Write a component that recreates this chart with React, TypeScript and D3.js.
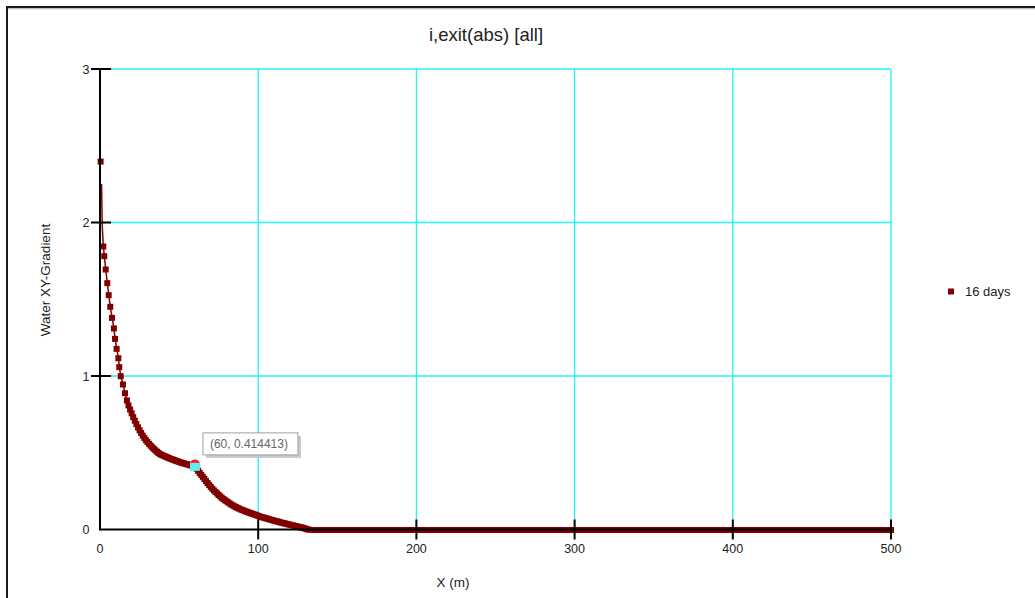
import React from "react";
import * as d3 from "d3";

// Chart header and axis text
const chartTitle = "i,exit(abs) [all]";
const xAxisTitle = "X (m)";
const yAxisTitle = "Water XY-Gradient";
const seriesName = "16 days";

// Axis ticks
const xTicks = [0, 100, 200, 300, 400, 500];
const yTicks = [0, 1, 2, 3];

// Isolated first value at the exit face
const spikeX = [0.4];
const spikeY = [2.4];

// Steep connecting segment near x = 0 (line only)
const leadX = [1.0, 1.4];
const leadY = [2.25, 1.98];

// Main gradient profile
const curveX = [
  2.1, 2.7, 3.6, 4.6, 5.5, 6.5, 7.6, 8.8, 9.5, 10.5, 11.6, 12.2, 13.1, 14.5, 15.8,
  17, 18, 19, 20, 21, 22, 23, 24, 25, 26, 27, 28, 29, 30, 31, 32, 33, 34, 35, 36,
  37, 38, 39, 40, 41, 42, 43, 44, 45, 46, 47, 48, 49, 50, 51, 52, 53, 54, 55, 56,
  57, 58, 59, 60, 61, 62, 63, 64, 65, 66, 67, 68, 69, 70, 71, 72, 73, 74, 75, 76,
  77, 78, 79, 80, 81, 82, 83, 84, 85, 86, 87, 88, 89, 90, 91, 92, 93, 94, 95, 96,
  97, 98, 99, 100, 101, 102, 103, 104, 105, 106, 107, 108, 109, 110, 111, 112, 113,
  114, 115, 116, 117, 118, 119, 120, 121, 122, 123, 124, 125, 126, 127, 128, 129,
  130, 131, 132,
];
const curveY = [
  1.847, 1.784, 1.697, 1.608, 1.53, 1.454, 1.382, 1.313, 1.245, 1.18, 1.119, 1.061, 1.002, 0.948, 0.891,
  0.844, 0.812, 0.785, 0.76, 0.735, 0.712, 0.69, 0.669, 0.65, 0.632, 0.615, 0.6, 0.586, 0.573, 0.561, 0.55, 0.539, 0.529, 0.519, 0.51,
  0.502, 0.494, 0.489, 0.485, 0.48, 0.476, 0.471, 0.467, 0.463, 0.459, 0.455, 0.451, 0.447, 0.444, 0.44, 0.437, 0.434, 0.431, 0.428, 0.425,
  0.422, 0.419, 0.417, 0.414413, 0.4, 0.386, 0.372, 0.359, 0.346, 0.333, 0.319, 0.306, 0.293, 0.281, 0.269, 0.258, 0.248, 0.238, 0.228, 0.219,
  0.21, 0.202, 0.194, 0.187, 0.18, 0.173, 0.166, 0.16, 0.154, 0.149, 0.144, 0.139, 0.134, 0.13, 0.126, 0.122, 0.118, 0.114, 0.11, 0.107,
  0.103, 0.1, 0.096, 0.092, 0.088, 0.085, 0.082, 0.079, 0.076, 0.073, 0.07, 0.067, 0.064, 0.061, 0.058, 0.056, 0.053,
  0.05, 0.047, 0.045, 0.042, 0.04, 0.037, 0.035, 0.032, 0.03, 0.027, 0.025, 0.022, 0.02, 0.017, 0.015, 0.012,
  0.008, 0.005, 0.002,
];

// Flat zero tail of the profile
const tailX = [
  135, 138, 141, 144, 147, 150, 153, 156, 159, 162, 165, 168, 171, 174, 177, 180,
  183, 186, 189, 192, 195, 198, 201, 204, 207, 210, 213, 216, 219, 222, 225, 228,
  231, 234, 237, 240, 243, 246, 249, 252, 255, 258, 261, 264, 267, 270, 273, 276,
  279, 282, 285, 288, 291, 294, 297, 300, 303, 306, 309, 312, 315, 318, 321, 324,
  327, 330, 333, 336, 339, 342, 345, 348, 351, 354, 357, 360, 363, 366, 369, 372,
  375, 378, 381, 384, 387, 390, 393, 396, 399, 402, 405, 408, 411, 414, 417, 420,
  423, 426, 429, 432, 435, 438, 441, 444, 447, 450, 453, 456, 459, 462, 465, 468,
  471, 474, 477, 480, 483, 486, 489, 492, 495, 498, 500,
];
const tailY = tailX.map(() => 0);

// Highlighted probe value
const probeX = 60;
const probeY = 0.414413;

const W = 1035;
const H = 598;
const FONT = "'Liberation Sans', Arial, sans-serif";
const MAROON = "#800000";
const GRID = "#22f4f4";

export default function App() {
  const x = d3.scaleLinear().domain([0, 500]).range([100, 891]);
  const y = d3.scaleLinear().domain([0, 3]).range([529.5, 69]);

  const mainPts: [number, number][] = [
    ...leadX.map((v, i) => [v, leadY[i]] as [number, number]),
    ...curveX.map((v, i) => [v, curveY[i]] as [number, number]),
    ...tailX.map((v, i) => [v, tailY[i]] as [number, number]),
  ];
  const markerPts: [number, number][] = [
    ...spikeX.map((v, i) => [v, spikeY[i]] as [number, number]),
    ...curveX.map((v, i) => [v, curveY[i]] as [number, number]),
    ...tailX.map((v, i) => [v, tailY[i]] as [number, number]),
  ];

  const line = d3
    .line<[number, number]>()
    .x((d) => x(d[0]))
    .y((d) => y(d[1]));

  const ms = 6;
  const px = x(probeX);
  const py = y(probeY);

  return (
    <svg
      width={W}
      height={H}
      style={{ position: "absolute", left: 0, top: 0, background: "#fff" }}
      fontFamily={FONT}
    >
      {/* outer panel frame */}
      <rect x={7} y={7} width={W + 20} height={H + 20} fill="none" stroke="#1a1a1a" strokeWidth={2} />
      <line x1={8} x2={W} y1={8.8} y2={8.8} stroke="#aaa" strokeWidth={1} />

      {/* title */}
      <text x={486} y={41} textAnchor="middle" fontSize={18.5} fill="#222">
        {chartTitle}
      </text>

      {/* grid */}
      <g stroke={GRID} strokeWidth={1.3}>
        {xTicks.filter((t) => t > 0).map((t) => (
          <line key={"gx" + t} x1={x(t)} x2={x(t)} y1={y(3)} y2={y(0)} />
        ))}
        {yTicks.filter((t) => t > 0).map((t) => (
          <line key={"gy" + t} x1={x(0)} x2={x(500)} y1={y(t)} y2={y(t)} />
        ))}
      </g>

      {/* series */}
      <path d={line(mainPts) || ""} fill="none" stroke={MAROON} strokeWidth={1.5} />
      <g fill={MAROON}>
        {markerPts.map((d, i) => (
          <rect key={i} x={x(d[0]) - ms / 2} y={y(d[1]) - ms / 2 + 0.5} width={ms} height={ms} />
        ))}
      </g>

      {/* axes */}
      <g stroke="#000" strokeWidth={2}>
        <line x1={x(0)} x2={x(0)} y1={y(3)} y2={y(0) + 1} />
        <line x1={x(0)} x2={x(500)} y1={y(0)} y2={y(0)} />
        {yTicks.filter((t) => t > 0).map((t) => (
          <line key={"ty" + t} x1={x(0) - 9} x2={x(0) + 11} y1={y(t)} y2={y(t)} />
        ))}
        {xTicks.filter((t) => t > 0).map((t) => (
          <line key={"tx" + t} x1={x(t)} x2={x(t)} y1={y(0) - 10} y2={y(0) + 10} />
        ))}
      </g>
      <g fontSize={12.5} fill="#222">
        {yTicks.map((t) => (
          <text key={"ly" + t} x={89.5} y={y(t) + 4.5} textAnchor="end">
            {t}
          </text>
        ))}
        {xTicks.map((t) => (
          <text key={"lx" + t} x={x(t)} y={y(0) + 23} textAnchor="middle">
            {t}
          </text>
        ))}
      </g>

      {/* axis titles */}
      <text x={453} y={587} textAnchor="middle" fontSize={13.5} fill="#222">
        {xAxisTitle}
      </text>
      <text
        transform={`translate(50,280) rotate(-90)`}
        textAnchor="middle"
        fontSize={13.5}
        fill="#222"
      >
        {yAxisTitle}
      </text>

      {/* legend */}
      <rect x={948} y={288.5} width={6} height={6} fill={MAROON} />
      <text x={965} y={296} fontSize={13} fill="#222">
        {seriesName}
      </text>

      {/* probe marker and readout */}
      <circle cx={px} cy={py - 1.5} r={5} fill="#ff1a1a" />
      <rect x={px - 5} y={py - 3} width={10} height={8} fill="#5ef0f0" />
      <rect x={px + 11} y={py - 30} width={95} height={22} fill="#c8c8c8" />
      <rect x={px + 8} y={py - 33} width={95} height={22} fill="#fff" stroke="#a0a0a0" strokeWidth={1} />
      <text x={px + 15} y={py - 17.5} fontSize={12} fill="#666">
        {`(${probeX}, ${probeY})`}
      </text>
    </svg>
  );
}
